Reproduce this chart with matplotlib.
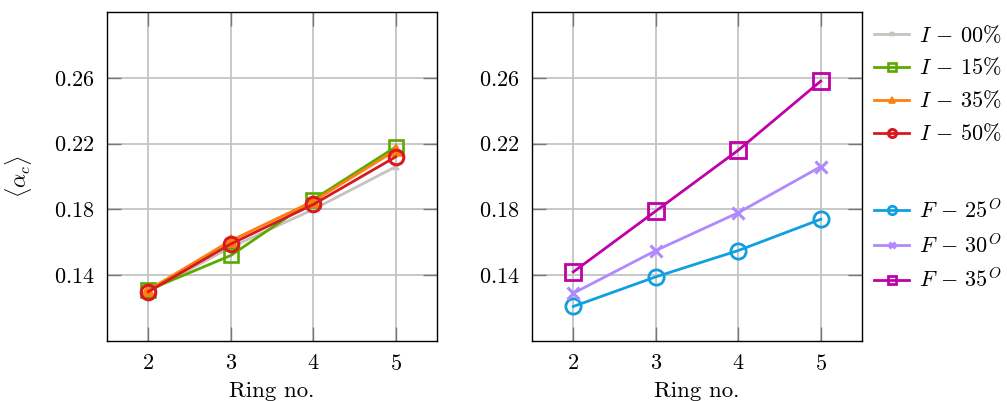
import matplotlib
matplotlib.use("Agg")
import matplotlib.pyplot as plt
from matplotlib.lines import Line2D

plt.rcParams['mathtext.fontset'] = 'cm'
plt.rcParams['font.family'] = 'serif'
plt.rcParams['font.serif'] = ['cmr10', 'DejaVu Serif']
plt.rcParams['axes.formatter.use_mathtext'] = True

ring = [2, 3, 4, 5]

i_labels = [r'$I\,-\,00\%$', r'$I\,-\,15\%$', r'$I\,-\,35\%$', r'$I\,-\,50\%$']
i00 = [0.130, 0.157, 0.180, 0.206]
i15 = [0.131, 0.152, 0.186, 0.218]
i35 = [0.131, 0.161, 0.185, 0.216]
i50 = [0.130, 0.159, 0.183, 0.212]

f_labels = [r'$F\,-\,25^O$', r'$F\,-\,30^O$', r'$F\,-\,35^O$']
f25 = [0.121, 0.139, 0.155, 0.174]
f30 = [0.129, 0.155, 0.178, 0.206]
f35 = [0.142, 0.179, 0.216, 0.258]

yticks = [0.14, 0.18, 0.22, 0.26]
ytick_labels = ['0.14', '0.18', '0.22', '0.26']

fig = plt.figure(figsize=(10.07, 4.01), dpi=100)
axL = fig.add_axes([0.1063, 0.1496, 0.3277, 0.8204])
axR = fig.add_axes([0.5283, 0.1496, 0.3277, 0.8204])

lw = 2.0
fs = 16
i_styles = [
    dict(color='#c8c2bc', marker='x', ms=5, mew=1.6, mfc='none'),
    dict(color='#5aaa00', marker='s', ms=10.5, mew=1.9, mfc='none'),
    dict(color='#ff7f0e', marker='^', ms=8, mew=1.2),
    dict(color='#d71920', marker='o', ms=10.5, mew=2.2, mfc='none'),
]
f_styles = [
    dict(color='#109fe0', marker='o', ms=11, mew=2.0, mfc='none'),
    dict(color='#b088ff', marker='x', ms=8.5, mew=2.2, mfc='none'),
    dict(color='#c000a8', marker='s', ms=11, mew=2.0, mfc='none'),
]

for vals, st, lab in zip([i00, i15, i35, i50], i_styles, i_labels):
    axL.plot(ring, vals, lw=lw, label=lab, **st)
for vals, st, lab in zip([f25, f30, f35], f_styles, f_labels):
    axR.plot(ring, vals, lw=lw, label=lab, **st)

for ax in (axL, axR):
    ax.set_xlim(1.5, 5.5)
    ax.set_ylim(0.10, 0.30)
    ax.set_xticks(ring)
    ax.set_xticklabels([f'${r}$' for r in ring])
    ax.set_yticks(yticks)
    ax.set_yticklabels([f'${t}$' for t in ytick_labels])
    ax.grid(True, color='#c4c4c4', lw=1.3)
    ax.set_axisbelow(True)
    ax.tick_params(direction='in', length=10, width=1.0, color='#777777',
                   top=True, right=True, labelsize=fs)
    ax.tick_params(axis='y', pad=9)
    ax.tick_params(axis='x', pad=9)
    for s in ax.spines.values():
        s.set_linewidth(1.0)
        s.set_color('black')
    ax.set_xlabel('Ring no.', fontsize=16.5, labelpad=6)

axL.set_ylabel(r'$\langle\alpha_c\rangle$', fontsize=fs, labelpad=14)

def handles(styles):
    hs = []
    for st in styles:
        st2 = dict(st)
        st2['ms'] = st2['ms'] * 0.55
        hs.append(Line2D([0], [0], lw=lw, **st2))
    return hs

leg1 = fig.legend(handles(i_styles), i_labels, loc='upper left',
                  bbox_to_anchor=(0.848, 0.99), frameon=False, fontsize=fs,
                  handlelength=1.6, labelspacing=0.5, handletextpad=0.45)
leg2 = fig.legend(handles(f_styles), f_labels, loc='upper left',
                  bbox_to_anchor=(0.848, 0.556), frameon=False, fontsize=fs,
                  handlelength=1.6, labelspacing=0.5, handletextpad=0.45)

fig.savefig('out.png', dpi=100)
